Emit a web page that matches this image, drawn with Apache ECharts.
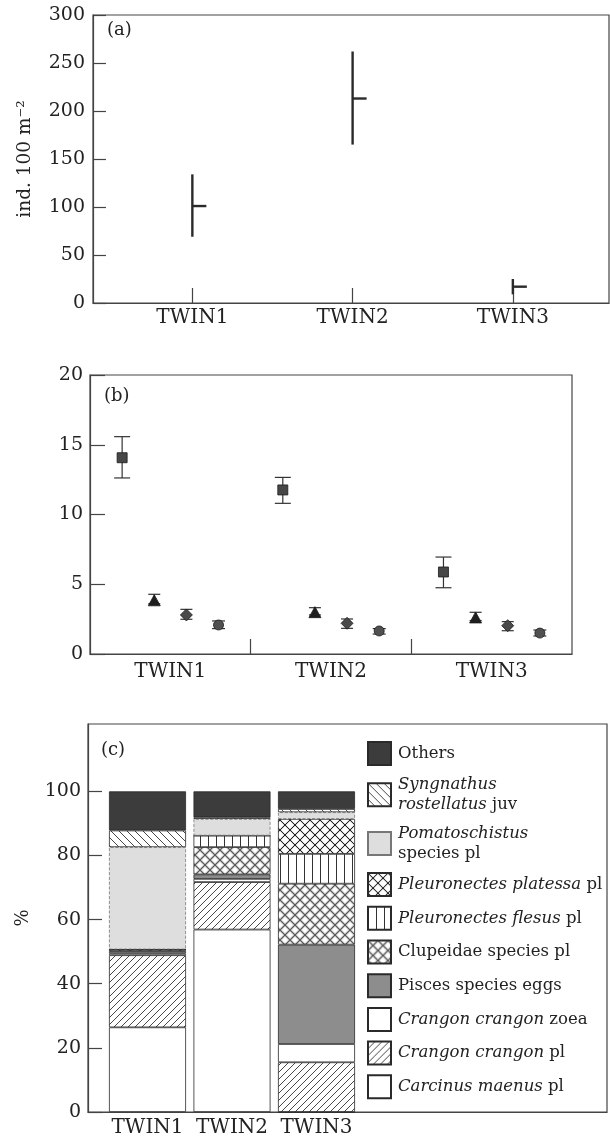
<!DOCTYPE html>
<html><head><meta charset="utf-8">
<script src="https://cdn.jsdelivr.net/npm/echarts@6/dist/echarts.min.js"></script>
<style>html,body{margin:0;padding:0;background:#fff}#c{width:610px;height:1143px}</style>
</head><body><div id="c"></div>
<script>
// ---------- data ----------
const sites = ['TWIN1', 'TWIN2', 'TWIN3'];

// panel (a): ind. 100 m-2
const aMean = [101, 213, 17];
const aLow = [69, 165, 9];
const aHigh = [134, 262, 25];

// panel (b): four measures (square, triangle, diamond, circle)
const bSquareMean = [14.07, 11.76, 5.88];
const bSquareLow = [12.62, 10.80, 4.75];
const bSquareHigh = [15.58, 12.66, 6.95];
const bTriMean = [3.85, 3.00, 2.62];
const bTriLow = [3.60, 2.80, 2.40];
const bTriHigh = [4.28, 3.32, 2.99];
const bDiaMean = [2.80, 2.20, 2.03];
const bDiaLow = [2.49, 1.84, 1.67];
const bDiaHigh = [3.20, 2.51, 2.32];
const bCirMean = [2.08, 1.65, 1.50];
const bCirLow = [1.82, 1.43, 1.29];
const bCirHigh = [2.37, 1.82, 1.72];

// panel (c): % composition, stacked bottom -> top
const carcinusPl = [26.4, 56.9, 0];
const crangonPl = [22.5, 14.8, 15.5];
const crangonZoea = [0.6, 1.0, 5.7];
const piscesEggs = [0.7, 1.4, 31.0];
const clupeidaePl = [0.5, 8.5, 19.0];
const flesusPl = [0, 3.6, 9.3];
const platessaPl = [0, 0, 10.9];
const pomatoschistusPl = [31.9, 5.2, 2.1];
const syngnathusJuv = [5.2, 0.5, 1.0];
const others = [12.2, 8.1, 5.5];

const yTicksC = [0, 20, 40, 60, 80, 100];

// ---------- styling helpers ----------
const FONT = 'DejaVu Serif';
const INK = '#2a2a2a';
function pat(w, h, draw) {
  const c = document.createElement('canvas');
  c.width = w; c.height = h;
  const g = c.getContext('2d');
  g.fillStyle = '#fff'; g.fillRect(0, 0, w, h);
  draw(g, w, h);
  return { image: c, repeat: 'repeat' };
}
function diag(g, w, h, up) {
  g.beginPath();
  if (up) {
    g.moveTo(0, h); g.lineTo(w, 0);
    g.moveTo(-w, h); g.lineTo(0, 0);
    g.moveTo(w, 2 * h); g.lineTo(2 * w, h);
    g.moveTo(0, 2 * h); g.lineTo(2 * w, 0);
  } else {
    g.moveTo(0, 0); g.lineTo(w, h);
    g.moveTo(-w, 0); g.lineTo(0, h);
    g.moveTo(w, -h); g.lineTo(2 * w, 0);
    g.moveTo(0, -h); g.lineTo(2 * w, h);
  }
  g.stroke();
}
const hatchUp = pat(7, 7, (g, w, h) => { g.strokeStyle = '#333'; g.lineWidth = 0.9; diag(g, w, h, true); });
const hatchDown = pat(8, 8, (g, w, h) => { g.strokeStyle = '#333'; g.lineWidth = 0.9; diag(g, w, h, false); });
const vLines = pat(8, 4, (g, w, h) => { g.fillStyle = '#333'; g.fillRect(0, 0, 1, h); });
const crossDark = pat(10, 10, (g, w, h) => {
  g.strokeStyle = '#c4c4c4'; g.lineWidth = 1.6; diag(g, w, h, true); diag(g, w, h, false);
  g.strokeStyle = '#222'; g.lineWidth = 1.0; diag(g, w, h, true); diag(g, w, h, false);
});
const crossGray = pat(10, 10, (g, w, h) => {
  g.strokeStyle = '#b0b0b0'; g.lineWidth = 2.4; diag(g, w, h, true); diag(g, w, h, false);
  g.strokeStyle = '#333'; g.lineWidth = 0.7; diag(g, w, h, true); diag(g, w, h, false);
});

// ---------- panel (c) series definitions ----------
const cSeries = [
  { name: 'Carcinus maenus pl', data: carcinusPl, color: '#ffffff' },
  { name: 'Crangon crangon pl', data: crangonPl, color: hatchUp },
  { name: 'Crangon crangon zoea', data: crangonZoea, color: '#ffffff' },
  { name: 'Pisces species eggs', data: piscesEggs, color: '#8d8d8d' },
  { name: 'Clupeidae species pl', data: clupeidaePl, color: crossGray },
  { name: 'Pleuronectes flesus pl', data: flesusPl, color: vLines },
  { name: 'Pleuronectes platessa pl', data: platessaPl, color: crossDark },
  { name: 'Pomatoschistus species pl', data: pomatoschistusPl, color: '#dedede', dashed: true },
  { name: 'Syngnathus rostellatus juv', data: syngnathusJuv, color: hatchDown },
  { name: 'Others', data: others, color: '#3c3c3c' }
];
const legendText = {
  'Others': 'Others',
  'Syngnathus rostellatus juv': '{i|Syngnathus}\n{i|rostellatus} juv',
  'Pomatoschistus species pl': '{i|Pomatoschistus}\nspecies pl',
  'Pleuronectes platessa pl': '{i|Pleuronectes platessa} pl',
  'Pleuronectes flesus pl': '{i|Pleuronectes flesus} pl',
  'Clupeidae species pl': 'Clupeidae species pl',
  'Pisces species eggs': 'Pisces species eggs',
  'Crangon crangon zoea': '{i|Crangon crangon} zoea',
  'Crangon crangon pl': '{i|Crangon crangon} pl',
  'Carcinus maenus pl': '{i|Carcinus maenus} pl'
};

// ---------- panel (b) helpers ----------
const bMeasures = [
  { sym: 'rect', size: 10, color: '#474747', cap: 16, mean: bSquareMean, low: bSquareLow, high: bSquareHigh },
  { sym: 'triangle', size: [12, 11], color: '#1e1e1e', cap: 12, mean: bTriMean, low: bTriLow, high: bTriHigh },
  { sym: 'diamond', size: 12, color: '#4a4a4a', cap: 12, mean: bDiaMean, low: bDiaLow, high: bDiaHigh },
  { sym: 'circle', size: 10, color: '#505050', cap: 13, mean: bCirMean, low: bCirLow, high: bCirHigh }
];
// position of measure k inside category band i (value axis 0..3)
const bx = (i, k) => i + (k + 1) / 5;

const series = [];

// panel (a) range lines with mean tick
series.push({
  type: 'custom', xAxisIndex: 0, yAxisIndex: 0,
  encode: { x: 0, y: [1, 2, 3] },
  data: sites.map((s, i) => [i + 1, aMean[i], aLow[i], aHigh[i]]),
  renderItem(params, api) {
    const m = api.coord([api.value(0), api.value(1)]);
    const lo = api.coord([api.value(0), api.value(2)]);
    const hi = api.coord([api.value(0), api.value(3)]);
    return { type: 'group', children: [
      { type: 'line', shape: { x1: lo[0], y1: lo[1], x2: hi[0], y2: hi[1] }, style: { stroke: INK, lineWidth: 2.4 } },
      { type: 'line', shape: { x1: m[0], y1: m[1], x2: m[0] + 14, y2: m[1] }, style: { stroke: INK, lineWidth: 2.4 } }
    ] };
  }
});

// panel (b) error bars + markers
bMeasures.forEach((m, k) => {
  series.push({
    type: 'custom', xAxisIndex: 1, yAxisIndex: 1,
    encode: { x: 0, y: [1, 2] },
    data: sites.map((s, i) => [bx(i, k), m.low[i], m.high[i]]),
    renderItem(params, api) {
      const lo = api.coord([api.value(0), api.value(1)]);
      const hi = api.coord([api.value(0), api.value(2)]);
      const c = m.cap / 2;
      const st = { stroke: '#333', lineWidth: 1.2 };
      return { type: 'group', children: [
        { type: 'line', shape: { x1: lo[0], y1: lo[1], x2: hi[0], y2: hi[1] }, style: st },
        { type: 'line', shape: { x1: lo[0] - c, y1: lo[1], x2: lo[0] + c, y2: lo[1] }, style: st },
        { type: 'line', shape: { x1: hi[0] - c, y1: hi[1], x2: hi[0] + c, y2: hi[1] }, style: st }
      ] };
    }
  });
  series.push({
    type: 'scatter', xAxisIndex: 1, yAxisIndex: 1,
    symbol: m.sym, symbolSize: m.size,
    itemStyle: { color: m.color, borderColor: '#1a1a1a', borderWidth: 0.8, opacity: 1 },
    data: sites.map((s, i) => [bx(i, k), m.mean[i]]),
    z: 5
  });
});

// panel (c) stacked bars
cSeries.forEach(cs => {
  series.push({
    type: 'bar', name: cs.name, stack: 'c', xAxisIndex: 3, yAxisIndex: 3,
    barWidth: 77,
    data: cs.data,
    itemStyle: { color: cs.color, borderColor: cs.dashed ? '#777' : '#2a2a2a', borderWidth: 0.8, borderType: cs.dashed ? 'dashed' : 'solid' },
    emphasis: { disabled: true }
  });
});

const axisLineStyle = { lineStyle: { color: '#444', width: 1.2 } };
const numStyle = { color: '#222', fontFamily: FONT, fontSize: 19 };
const catStyle = { color: '#222', fontFamily: FONT, fontSize: 20 };

const option = {
  animation: false,
  backgroundColor: '#fff',
  textStyle: { fontFamily: FONT },
  grid: [
    { left: 93, top: 15, width: 516, height: 288, show: true, borderColor: '#444', borderWidth: 1.2, backgroundColor: 'transparent' },
    { left: 90, top: 375, width: 482, height: 279, show: true, borderColor: '#444', borderWidth: 1.2, backgroundColor: 'transparent' },
    { left: 88, top: 724, width: 519, height: 388, show: true, borderColor: '#444', borderWidth: 1.2, backgroundColor: 'transparent' },
    { left: 105.25, top: 724, width: 253.5, height: 388 }
  ],
  xAxis: [
    { type: 'value', gridIndex: 0, min: 0.38, max: 3.6, splitLine: { show: false },
      axisLine: axisLineStyle,
      axisTick: { inside: true, length: 15, customValues: [1, 2, 3], lineStyle: { color: '#444', width: 1.2 } },
      axisLabel: { ...catStyle, margin: 5, customValues: [1, 2, 3], formatter: v => sites[Math.round(v) - 1] } },
    { type: 'value', gridIndex: 1, min: 0, max: 3, splitLine: { show: false },
      axisLine: axisLineStyle,
      axisTick: { inside: true, length: 15, customValues: [1, 2], lineStyle: { color: '#444', width: 1.2 } },
      axisLabel: { ...catStyle, margin: 8, customValues: [0.5, 1.5, 2.5], formatter: v => sites[Math.floor(v)] } },
    { type: 'value', gridIndex: 2, min: 0, max: 1, splitLine: { show: false },
      axisLine: axisLineStyle, axisTick: { show: false }, axisLabel: { show: false } },
    { type: 'category', gridIndex: 3, data: sites, axisLine: { show: false }, axisTick: { show: false },
      axisLabel: { ...catStyle, margin: 6, interval: 0, hideOverlap: false } }
  ],
  yAxis: [
    { type: 'value', gridIndex: 0, min: 0, max: 300, interval: 50, splitLine: { show: false },
      name: 'ind. 100 m⁻²', nameLocation: 'middle', nameGap: 58,
      nameTextStyle: { fontFamily: FONT, fontSize: 18.5, color: '#222' },
      axisLine: axisLineStyle,
      axisTick: { inside: true, length: 13, lineStyle: { color: '#444', width: 1.2 } },
      axisLabel: { ...numStyle, margin: 8 } },
    { type: 'value', gridIndex: 1, min: 0, max: 20, interval: 5, splitLine: { show: false },
      axisLine: axisLineStyle,
      axisTick: { inside: true, length: 15, lineStyle: { color: '#444', width: 1.2 } },
      axisLabel: { ...numStyle, margin: 7 } },
    { type: 'value', gridIndex: 2, min: 0, max: 121, splitLine: { show: false },
      name: '%', nameLocation: 'middle', nameGap: 56,
      nameTextStyle: { fontFamily: FONT, fontSize: 18, color: '#222' },
      axisLine: axisLineStyle,
      axisTick: { inside: true, length: 14, customValues: yTicksC, lineStyle: { color: '#444', width: 1.2 } },
      axisLabel: { ...numStyle, margin: 7, customValues: yTicksC } },
    { type: 'value', gridIndex: 3, min: 0, max: 121, show: false }
  ],
  legend: {
    orient: 'vertical', left: 367, top: 741, padding: 0,
    itemWidth: 23, itemHeight: 23, itemGap: 8.7,
    selectedMode: false, icon: 'rect',
    data: cSeries.map(s => s.name).reverse(),
    formatter: name => legendText[name],
    textStyle: { fontFamily: FONT, fontSize: 16.5, color: '#222', lineHeight: 20, padding: [0, 0, 0, 2],
      rich: { i: { fontFamily: FONT, fontSize: 16.5, fontStyle: 'italic', color: '#222', lineHeight: 20 } } }
  },
  graphic: [
    { type: 'text', left: 107, top: 21, style: { text: '(a)', font: '18px "DejaVu Serif"', fill: '#222' } },
    { type: 'text', left: 104, top: 387, style: { text: '(b)', font: '18px "DejaVu Serif"', fill: '#222' } },
    { type: 'text', left: 101, top: 741, style: { text: '(c)', font: '18px "DejaVu Serif"', fill: '#222' } }
  ],
  series
};

const chart = echarts.init(document.getElementById('c'), null, { renderer: 'canvas' });
chart.setOption(option);
</script>
</body></html>
